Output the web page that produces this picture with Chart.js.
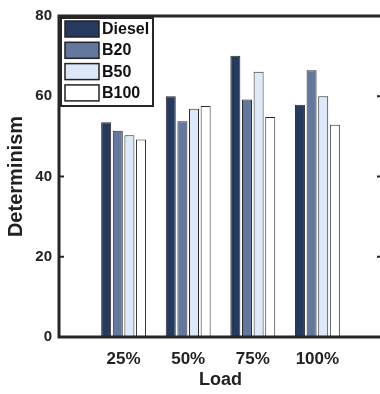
<!DOCTYPE html>
<html>
<head>
  <title>Determinism vs Load</title>
  <script src="https://cdn.jsdelivr.net/npm/chart.js"></script>
  <style>
    body { margin: 0; overflow: hidden; background: #fff; }
    canvas { display: block; }
  </style>
</head>
<body>
  <canvas id="detChart" width="383" height="394"></canvas>
  <script>
    const loads = ['25%', '50%', '75%', '100%'];
    const fuels = ['Diesel', 'B20', 'B50', 'B100'];
    const diesel = [53.5, 60.0, 70.1, 57.9];
    const b20 = [51.4, 53.8, 59.2, 66.5];
    const b50 = [50.3, 56.9, 66.1, 60.0];
    const b100 = [49.2, 57.6, 54.8, 52.9];
    const yTicks = [0, 20, 40, 60, 80];
    const fuelColors = ['#263a5f', '#64789f', '#dde9f8', '#ffffff'];

    const FONT = 'Liberation Sans, Arial, sans-serif';
    Chart.defaults.font.family = FONT;
    Chart.defaults.color = '#222';

    // empty slot at each end so the groups sit at 1..4 on a 0..5 axis
    const labels = [''].concat(loads, ['']);
    const pad = vals => [null].concat(vals, [null]);
    const series = [diesel, b20, b50, b100];

    // axes frame, inward ticks and the boxed legend
    const frameAndLegend = {
      id: 'frameAndLegend',
      afterDatasetsDraw(chart) {
        const { ctx, chartArea: a, scales: { y } } = chart;
        ctx.save();
        ctx.strokeStyle = '#262626';
        ctx.lineWidth = 3;
        ctx.beginPath();
        ctx.moveTo(a.right, a.top);
        ctx.lineTo(a.left, a.top);
        ctx.lineTo(a.left, a.bottom);
        ctx.lineTo(a.right, a.bottom);
        ctx.stroke();
        ctx.lineWidth = 2;
        yTicks.slice(1, -1).forEach(v => {
          const py = y.getPixelForValue(v);
          ctx.beginPath();
          ctx.moveTo(a.left, py); ctx.lineTo(a.left + 5, py);
          ctx.moveTo(a.right, py); ctx.lineTo(a.right - 5, py);
          ctx.stroke();
        });

        const lx = a.left + 2, ly = a.top + 2;
        ctx.fillStyle = '#fff';
        ctx.fillRect(lx, ly, 92, 88);
        ctx.lineWidth = 2;
        ctx.strokeRect(lx, ly, 92, 88);
        ctx.font = 'bold 16px ' + FONT;
        ctx.textBaseline = 'middle';
        chart.data.datasets.forEach((ds, i) => {
          const ry = ly + 3 + i * 21.3;
          ctx.fillStyle = ds.backgroundColor;
          ctx.fillRect(lx + 4, ry, 34, 16);
          ctx.lineWidth = 1.5;
          ctx.strokeStyle = '#222';
          ctx.strokeRect(lx + 4, ry, 34, 16);
          ctx.fillStyle = '#111';
          ctx.fillText(ds.label, lx + 41, ry + 8.5);
        });
        ctx.restore();
      }
    };

    new Chart(document.getElementById('detChart'), {
      type: 'bar',
      data: {
        labels: labels,
        datasets: fuels.map((f, i) => ({
          label: f,
          data: pad(series[i]),
          backgroundColor: fuelColors[i],
          borderColor: '#2b2b2b',
          borderWidth: 1,
          categoryPercentage: 0.72,
          barPercentage: 0.86
        }))
      },
      options: {
        responsive: false,
        animation: false,
        layout: { padding: { top: 15, right: 1, left: 0, bottom: 0 } },
        plugins: { legend: { display: false }, tooltip: { enabled: false } },
        scales: {
          x: {
            offset: false,
            grid: { display: false, drawTicks: false },
            border: { display: false },
            ticks: { font: { size: 17, weight: 'bold' }, padding: 12, maxRotation: 0, autoSkip: false },
            title: { display: true, text: 'Load', font: { size: 18, weight: 'bold' }, padding: { top: 0, bottom: 3 } },
            afterFit: s => { s.height = 57; s.paddingLeft = 0; s.paddingRight = 0; }
          },
          y: {
            min: 0,
            max: 80,
            afterBuildTicks: s => { s.ticks = yTicks.map(v => ({ value: v })); },
            grid: { display: false, drawTicks: false },
            border: { display: false },
            ticks: { font: { size: 15, weight: 'bold' }, padding: 7 },
            title: { display: true, text: 'Determinism', font: { size: 20, weight: 'bold' }, padding: { top: 4, bottom: 0 } },
            afterFit: s => { s.width = 59; }
          }
        }
      },
      plugins: [frameAndLegend]
    });
  </script>
</body>
</html>
